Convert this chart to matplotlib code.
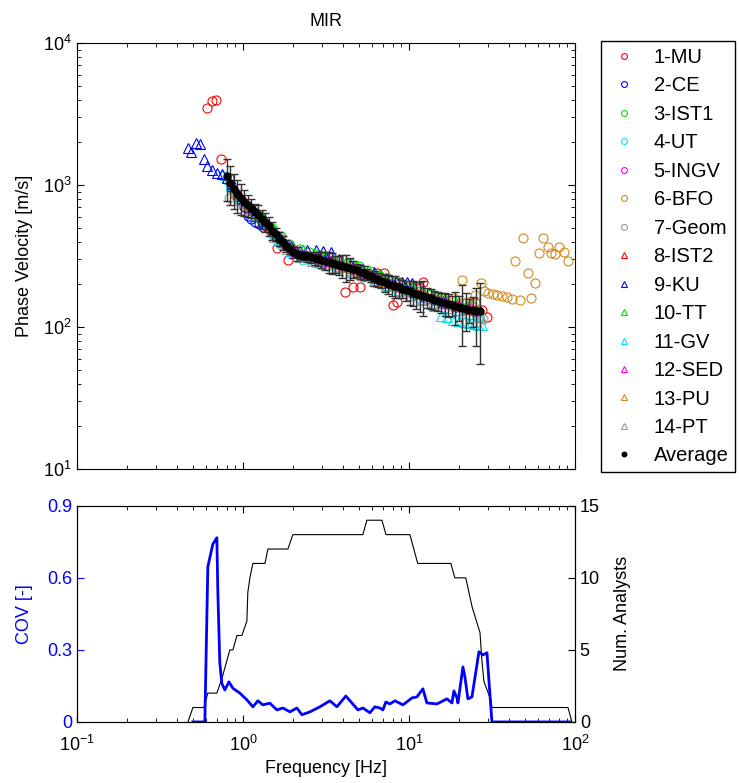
import matplotlib
matplotlib.use("Agg")
import matplotlib.pyplot as plt
from matplotlib.ticker import NullFormatter, FixedLocator

plt.rcParams["font.family"] = ["Liberation Sans", "DejaVu Sans"]
plt.rcParams["mathtext.fontset"] = "custom"
plt.rcParams["mathtext.rm"] = "Liberation Sans"
plt.rcParams["mathtext.it"] = "Liberation Sans:italic"

# ── Average dispersion curve (error bar = 2 x std) ────────────────────────────
avg_f = [0.80, 0.84, 0.88, 0.92, 0.97, 1.02, 1.07, 1.12, 1.18, 1.24,
         1.30, 1.36, 1.43, 1.50, 1.58, 1.66, 1.74, 1.83, 1.92, 2.01,
         2.11, 2.22, 2.33, 2.45, 2.57, 2.70, 2.83, 2.97, 3.12, 3.28,
         3.44, 3.61, 3.79, 3.98, 4.18, 4.39, 4.61, 4.84, 5.08, 5.34,
         5.60, 5.88, 6.18, 6.49, 6.81, 7.15, 7.51, 7.88, 8.28, 8.69,
         9.12, 9.58, 10.1, 10.6, 11.1, 11.6, 12.2, 12.8, 13.5, 14.2,
         14.9, 15.6, 16.4, 17.2, 18.1, 19.0, 19.9, 20.9, 22.0, 23.1,
         24.2, 25.4, 26.7]
avg_v = [1150, 1040, 935, 865, 815, 765, 725, 690, 650, 615,
         580, 550, 515, 478, 450, 420, 395, 375, 355, 338,
         328, 322, 318, 314, 310, 306, 302, 298, 294, 289,
         284, 279, 275, 271, 266, 261, 256, 251, 246, 240,
         234, 228, 222, 216, 211, 206, 202, 198, 194, 190,
         186, 182, 178, 175, 171, 168, 165, 162, 159, 156,
         153, 150, 147, 145, 142, 140, 138, 136, 134, 132,
         131, 130, 130]
avg_err = [380, 320, 260, 225, 195, 155, 130, 105, 90, 105,
           87, 81, 80, 67, 48, 45, 46, 38, 30, 34,
           38, 23, 22, 25, 27, 31, 35, 38, 41, 47,
           48, 38, 41, 49, 57, 47, 36, 26, 27, 27,
           21, 19, 27, 26, 23, 29, 32, 32, 34, 30,
           27, 29, 34, 35, 36, 40, 46, 26, 25, 24,
           23, 25, 27, 27, 23, 36, 28, 62, 40, 26,
           31, 57, 75]

# ── Individual analysts ───────────────────────────────────────────────────────
mu_f = [0.61, 0.65, 0.69, 0.74, 0.83, 0.92, 1.0, 1.1, 1.25, 1.42, 1.6, 1.87,
        2.2, 2.6, 3.0, 3.5, 4.1, 4.6, 5.1, 5.7, 6.4, 7.1, 8.0, 8.5, 9.5,
        11.6, 12.2, 14.0, 16.0, 19.0, 22.0, 25.0, 27.5, 29.5]
mu_v = [3500, 3900, 3950, 1520, 1130, 870, 760, 680, 600, 500, 360, 296,
        325, 305, 300, 282, 176, 190, 190, 232, 240, 240, 143, 150, 182,
        188, 207, 158, 148, 140, 136, 150, 132, 118]

ce_f = [0.85, 0.90, 0.95, 1.02, 1.07, 1.12, 1.18, 1.25, 1.32, 1.45, 1.6, 1.8,
        2.0, 2.3, 2.7, 3.1, 3.6, 4.2, 4.9, 5.7, 6.6, 7.7, 9.0, 10.5, 12.2,
        14.2, 16.5, 19.2, 22.3, 25.0]
ce_v = [1000, 870, 800, 700, 610, 580, 550, 530, 510, 480, 440, 385,
        345, 318, 305, 292, 280, 264, 250, 232, 214, 200, 187, 175, 164,
        155, 146, 139, 133, 128]

ist1_f = [1.5, 1.7, 1.9, 2.2, 2.5, 2.9, 3.3, 3.8, 4.4, 5.0, 5.8, 6.6, 7.6,
          8.8, 10.1, 11.7, 13.5, 15.6, 18.0, 20.8, 23.5]
ist1_v = [498, 435, 387, 355, 337, 323, 310, 297, 282, 267, 250, 231, 217,
          204, 192, 180, 171, 161, 154, 147, 142]

ut_f = [0.76, 0.80, 0.85, 0.90, 0.96, 1.03, 1.1, 1.2, 1.35, 1.5, 1.7, 1.95,
        2.3, 2.7, 3.2, 3.8, 4.5, 5.3, 6.2, 7.3, 8.6, 10.1, 11.9, 14.0, 16.5,
        19.5, 23.0, 26.0]
ut_v = [1150, 1080, 960, 880, 800, 730, 670, 610, 540, 450, 380, 328,
        296, 282, 270, 256, 240, 224, 206, 190, 178, 166, 155, 145, 137,
        129, 121, 115]

ingv_f = [0.9, 1.0, 1.1, 1.25, 1.4, 1.6, 1.8, 2.05, 2.4, 2.8, 3.3, 3.9, 4.6,
          5.4, 6.3, 7.4, 8.7, 10.2, 12.0, 14.1, 16.6, 19.5, 23.0, 26.0]
ingv_v = [860, 760, 680, 600, 525, 440, 380, 338, 316, 304, 290, 274, 258,
          240, 220, 205, 192, 180, 168, 158, 148, 141, 134, 130]

bfo_f = [1.2, 1.5, 1.9, 2.4, 3.0, 3.8, 4.8, 6.0, 7.5, 9.4, 11.8, 14.0, 16.0,
         18.7, 20.9, 22.5, 25.0, 27.0, 28.3, 29.9, 32.1, 33.9, 36.3, 38.9,
         41.7, 43.5, 46.6, 48.7, 52.1, 54.3, 57.4, 60.7, 64.2, 68.8, 71.6,
         75.8, 80.1, 85.9, 90.8]
bfo_v = [640, 480, 360, 318, 298, 276, 250, 226, 203, 186, 168, 160, 158,
         160, 214, 150, 168, 204, 179, 173, 171, 168, 165, 163,
         157, 292, 155, 424, 240, 160, 204, 332, 424, 366, 332,
         327, 366, 337, 292]

geom_f = [0.82, 0.9, 1.0, 1.15, 1.3, 1.5, 1.75, 2.0, 2.4, 2.9, 3.5, 4.2, 5.0,
          6.0, 7.2, 8.6, 10.3, 12.3, 14.7, 17.6, 21.0, 25.0, 28.0]
geom_v = [810, 850, 750, 660, 575, 470, 390, 340, 315, 300, 282, 265, 248,
          226, 207, 191, 178, 165, 154, 144, 136, 130, 113]

ist2_f = [1.0, 1.2, 1.45, 1.7, 2.0, 2.4, 2.9, 3.4, 4.0, 4.8, 5.7, 6.8, 8.1,
          9.6, 11.4, 13.6, 16.2, 19.2, 22.8, 25.5]
ist2_v = [780, 640, 505, 405, 345, 320, 303, 288, 270, 252, 233, 212, 197,
          184, 171, 159, 149, 141, 135, 131]

ku_f = [0.47, 0.49, 0.52, 0.55, 0.58, 0.61, 0.65, 0.70, 0.75, 0.80, 0.86,
        0.93, 1.0, 1.1, 1.2, 1.35, 1.5, 1.7, 1.95, 2.2, 2.45, 2.75, 3.05,
        3.4, 3.8, 4.4, 5.2, 6.2, 7.3, 8.4, 9.1, 9.8, 10.4, 12.0, 14.0, 16.0]
ku_v = [1820, 1710, 1975, 1950, 1530, 1370, 1280, 1220, 1190, 1120, 980,
        870, 790, 700, 640, 560, 490, 420, 370, 345, 348, 348, 345,
        340, 300, 280, 258, 245, 220, 210, 206, 206, 204, 180, 165, 152]

tt_f = [1.3, 1.5, 1.75, 2.0, 2.3, 2.7, 3.1, 3.6, 4.2, 4.9, 5.7, 6.6, 7.7,
        9.0, 10.5, 12.2, 14.2, 16.5, 19.2, 22.0]
tt_v = [620, 510, 420, 368, 346, 331, 317, 302, 286, 271, 252, 231, 216,
        202, 189, 178, 168, 158, 149, 143]

gv_f = [0.85, 0.95, 1.05, 1.2, 1.4, 1.65, 1.95, 2.3, 2.7, 3.2, 3.8, 4.5, 5.3,
        6.3, 7.4, 8.7, 10.2, 12.0, 14.1, 15.5, 17.0, 18.5, 20.0, 21.5, 23.0,
        24.5, 26.0, 27.5]
gv_v = [1000, 830, 720, 620, 510, 415, 345, 312, 298, 285, 270, 252, 235,
        214, 197, 182, 168, 155, 140, 120, 118, 112, 110, 108, 106,
        105, 104, 104]

sed_f = [1.1, 1.3, 1.5, 1.75, 2.05, 2.4, 2.8, 3.3, 3.9, 4.6, 5.4, 6.3, 7.4,
         8.7, 10.2, 12.0, 14.1, 16.6, 19.5, 22.9]
sed_v = [690, 590, 480, 400, 345, 322, 308, 292, 277, 260, 242, 222, 206,
         193, 181, 170, 160, 150, 142, 136]

pu_f = [0.9, 1.05, 1.25, 1.5, 1.8, 2.15, 2.55, 3.0, 3.6, 4.3, 5.1, 6.1, 7.2,
        8.6, 10.2, 12.1, 14.4, 17.1, 20.3, 24.0, 26.5]
pu_v = [880, 720, 605, 480, 385, 335, 315, 300, 284, 266, 248, 226, 210,
        195, 182, 170, 160, 150, 143, 137, 133]

pt_f = [0.95, 1.1, 1.3, 1.55, 1.85, 2.2, 2.6, 3.1, 3.7, 4.4, 5.2, 6.2, 7.3,
        8.7, 10.3, 12.2, 14.5, 17.2, 20.4, 24.2, 27.0]
pt_v = [780, 650, 550, 432, 352, 310, 291, 278, 263, 246, 231, 211, 195,
        180, 168, 157, 147, 137, 131, 124, 118]

# ── Lower panel: COV and number of analysts ───────────────────────────────────
cov_f = [0.50, 0.59, 0.615, 0.659, 0.697, 0.706, 0.726, 0.747, 0.779, 0.824,
         0.871, 0.959, 1.057, 1.149, 1.231, 1.319, 1.454, 1.603, 1.742, 1.920,
         2.115, 2.266, 2.535, 2.911, 3.342, 3.683, 4.171, 4.929, 5.283, 5.821,
         6.238, 6.684, 6.970, 7.265, 7.686, 8.236, 9.204, 10.43, 11.17, 12.14,
         12.83, 14.75, 16.94, 18.16, 18.67, 19.47, 19.74, 21.15, 21.74, 22.66,
         23.97, 26.41, 27.92, 29.51, 31.62, 93.3]
cov_v = [0.0, 0.0, 0.646, 0.74, 0.767, 0.55, 0.246, 0.16, 0.133, 0.167,
         0.14, 0.12, 0.092, 0.063, 0.088, 0.071, 0.078, 0.05, 0.058, 0.042,
         0.058, 0.03, 0.042, 0.063, 0.088, 0.063, 0.108, 0.05, 0.058, 0.038,
         0.063, 0.058, 0.05, 0.083, 0.075, 0.088, 0.071, 0.10, 0.104, 0.138,
         0.079, 0.075, 0.096, 0.079, 0.129, 0.10, 0.079, 0.229, 0.188, 0.096,
         0.104, 0.292, 0.279, 0.288, 0.0, 0.0]

nan_f = [0.467, 0.50, 0.582, 0.615, 0.697, 0.747, 0.835, 0.871, 0.921, 0.986,
         1.057, 1.071, 1.102, 1.149, 1.358, 1.415, 1.867, 2.0, 5.28, 5.58,
         6.88, 7.27, 10.14, 11.3, 17.9, 18.9, 22.0, 24.0, 26.8, 27.5,
         28.3, 31.2, 31.6, 90.8, 95.9]
nan_n = [0, 1, 1, 2, 2, 3, 5, 5, 6, 6,
         7, 9, 10, 11, 11, 12, 12, 13, 13, 14,
         14, 13, 13, 11, 11, 10, 10, 8, 6.2, 4.3,
         2.8, 1.5, 1, 1, 0]

series = [
    ("1-MU", mu_f, mu_v, "o", "#FF0000"),
    ("2-CE", ce_f, ce_v, "o", "#0000FF"),
    ("3-IST1", ist1_f, ist1_v, "o", "#00E000"),
    ("4-UT", ut_f, ut_v, "o", "#00E5EE"),
    ("5-INGV", ingv_f, ingv_v, "o", "#FF00FF"),
    ("6-BFO", bfo_f, bfo_v, "o", "#D4891C"),
    ("7-Geom", geom_f, geom_v, "o", "#999999"),
    ("8-IST2", ist2_f, ist2_v, "^", "#FF0000"),
    ("9-KU", ku_f, ku_v, "^", "#0000FF"),
    ("10-TT", tt_f, tt_v, "^", "#00E000"),
    ("11-GV", gv_f, gv_v, "^", "#00E5EE"),
    ("12-SED", sed_f, sed_v, "^", "#FF00FF"),
    ("13-PU", pu_f, pu_v, "^", "#D4891C"),
    ("14-PT", pt_f, pt_v, "^", "#999999"),
]

fig = plt.figure(figsize=(7.39, 7.83), dpi=100)
ax = fig.add_axes([0.104, 0.401, 0.674, 0.544])

handles = []
for label, f, v, mk, col in series:
    h, = ax.plot(f, v, linestyle="none", marker=mk, markersize=6.5,
                 markerfacecolor="none", markeredgecolor=col,
                 markeredgewidth=0.8, label=label)
    handles.append(h)

ax.errorbar(avg_f, avg_v, yerr=avg_err, fmt="none", ecolor="0.2",
            elinewidth=1.0, capsize=3, capthick=1.0)
h_avg, = ax.plot(avg_f, avg_v, linestyle="none", marker="o", markersize=5.0,
                 color="k", label="Average")
handles.append(h_avg)

ax.set_xscale("log")
ax.set_yscale("log")
ax.set_xlim(0.1, 100)
ax.set_ylim(10, 10000)
ax.xaxis.set_major_formatter(NullFormatter())
ax.xaxis.set_minor_formatter(NullFormatter())
ax.set_ylabel("Phase Velocity [m/s]", fontsize=13, labelpad=7)
ax.set_title("MIR", fontsize=13, pad=12)
ax.tick_params(which="both", direction="in", top=True, right=True,
               labelsize=13)
ax.tick_params(which="major", length=5)
ax.tick_params(which="minor", length=3)

fig.legend(handles=handles, loc="upper left",
           bbox_to_anchor=(0.813, 0.947), fontsize=14.5, frameon=True,
           fancybox=False, edgecolor="k", framealpha=1, markerscale=0.65,
           handlelength=1.7, handletextpad=0.6, labelspacing=0.47,
           borderpad=0.32, borderaxespad=0)

# ── Lower panel ───────────────────────────────────────────────────────────────
ax2 = fig.add_axes([0.104, 0.078, 0.674, 0.276])
ax2.plot(cov_f, cov_v, color="#0000FF", linewidth=2.0, zorder=3)
ax2.set_xscale("log")
ax2.set_xlim(0.1, 100)
ax2.set_ylim(0, 0.9)
ax2.yaxis.set_major_locator(FixedLocator([0, 0.3, 0.6, 0.9]))
ax2.set_yticklabels(["0", "0.3", "0.6", "0.9"])
ax2.tick_params(axis="y", colors="#0000FF", labelcolor="#0000FF")
ax2.set_ylabel("COV [-]", color="#0000FF", fontsize=13, labelpad=10)
ax2.set_xlabel("Frequency [Hz]", fontsize=13, labelpad=4)
ax2.tick_params(which="both", direction="in", top=True, labelsize=13)
ax2.tick_params(axis="x", which="major", length=5, pad=9)
ax2.tick_params(axis="x", which="minor", length=3)
ax2.tick_params(axis="y", length=5)

ax3 = ax2.twinx()
ax3.plot(nan_f, nan_n, color="k", linewidth=0.8, zorder=2)
ax3.set_ylim(0, 15)
ax3.yaxis.set_major_locator(FixedLocator([0, 5, 10, 15]))
ax3.tick_params(axis="y", direction="in", length=5, labelsize=13)
ax3.set_ylabel("Num. Analysts", fontsize=13, labelpad=10)
ax2.set_zorder(ax3.get_zorder() + 1)
ax2.patch.set_visible(False)

fig.savefig("out.png", dpi=100)
